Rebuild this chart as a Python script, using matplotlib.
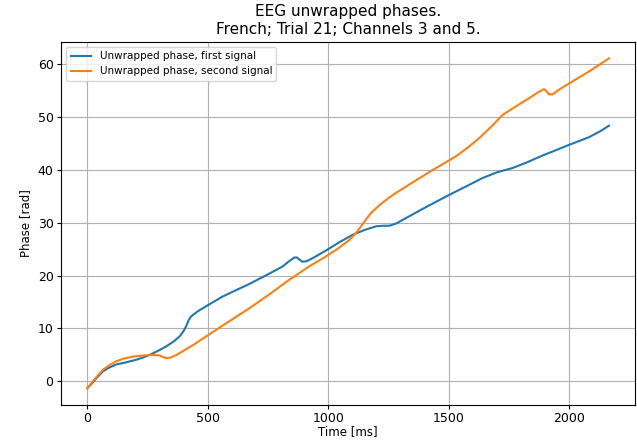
import matplotlib
matplotlib.use('Agg')
import matplotlib.pyplot as plt

# time [ms] and unwrapped phase [rad]
time_first = [0, 15, 30, 50, 65, 90, 120, 160, 203, 230, 258, 290, 327, 360, 383,
              398, 410, 420, 431, 460, 493, 560, 620, 672, 740, 810, 840, 859, 870,
              880, 893, 910, 940, 1000, 1050, 1101, 1150, 1198, 1230, 1253, 1280,
              1308, 1400, 1500, 1570, 1639, 1700, 1764, 1820, 1880, 2000, 2080,
              2130, 2164]
phase_first = [-1.3, -0.6, 0.2, 1.2, 1.9, 2.6, 3.2, 3.6, 4.1, 4.5, 5.0, 5.7, 6.6,
               7.6, 8.5, 9.4, 10.4, 11.5, 12.3, 13.3, 14.2, 16.0, 17.3, 18.4, 20.0,
               21.7, 22.8, 23.4, 23.4, 23.0, 22.6, 22.7, 23.4, 25.0, 26.4, 27.7,
               28.6, 29.3, 29.4, 29.4, 29.8, 30.5, 32.8, 35.2, 36.8, 38.4, 39.5,
               40.3, 41.3, 42.5, 44.7, 46.1, 47.3, 48.3]

time_second = [0, 30, 65, 90, 120, 150, 190, 230, 272, 300, 315, 327, 345, 370,
               396, 440, 493, 580, 672, 760, 838, 920, 990, 1040, 1087, 1110, 1128,
               1150, 1177, 1220, 1267, 1350, 1432, 1529, 1580, 1632, 1680, 1722,
               1780, 1833, 1870, 1895, 1905, 1915, 1930, 1960, 2000, 2080, 2164]
phase_second = [-1.3, 0.4, 2.2, 3.0, 3.8, 4.3, 4.7, 4.9, 5.0, 4.9, 4.6, 4.4, 4.5,
                5.0, 5.7, 6.9, 8.5, 11.1, 13.8, 16.6, 19.2, 21.7, 23.6, 25.1, 26.7,
                27.8, 28.8, 30.2, 31.8, 33.6, 35.2, 37.6, 39.9, 42.5, 44.2, 46.2,
                48.3, 50.3, 52.0, 53.5, 54.6, 55.2, 54.8, 54.2, 54.2, 55.2, 56.3,
                58.5, 61.0]


def main():
    fig = plt.figure(figsize=(6.37, 4.41), dpi=100)
    ax = fig.add_axes([0.096, 0.082, 0.901, 0.823])
    ax.plot(time_first, phase_first, label='Unwrapped phase, first signal')
    ax.plot(time_second, phase_second, label='Unwrapped phase, second signal')
    ax.set_title('EEG unwrapped phases.\nFrench; Trial 21; Channels 3 and 5.', fontsize=11)
    ax.set_xlabel('Time [ms]', fontsize=8.5, labelpad=0)
    ax.set_ylabel('Phase [rad]', fontsize=8.5)
    ax.tick_params(labelsize=9, length=3, pad=2.5)
    ax.grid(True)
    ax.legend(loc='upper left', fontsize=7.5)
    fig.savefig('out.png', dpi=100)


if __name__ == '__main__':
    main()
